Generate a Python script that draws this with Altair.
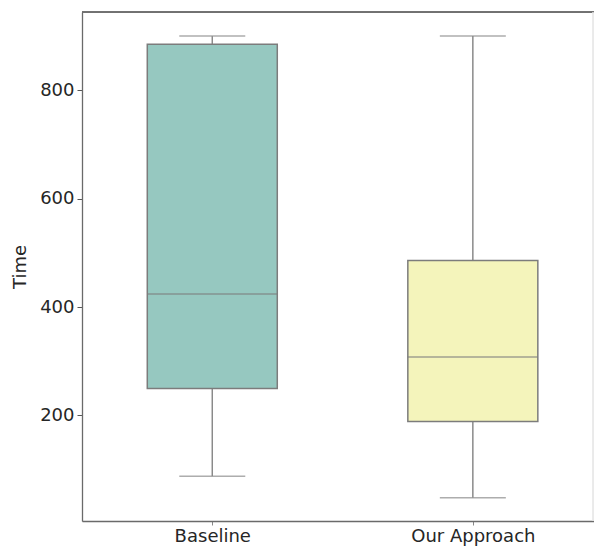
import altair as alt
import pandas as pd

categories = ["Baseline", "Our Approach"]
whisker_low = [88, 48]
q1 = [250, 189]
median = [424, 308]
q3 = [885, 486]
whisker_high = [900, 900]
colors = ["#96c8c0", "#f4f4bb"]

df = pd.DataFrame({
    "cat": categories,
    "pos": list(range(len(categories))),
    "lo": whisker_low,
    "q1": q1,
    "med": median,
    "q3": q3,
    "hi": whisker_high,
})

font = "DejaVu Sans"
line_gray = "#8a8a8a"
edge_gray = "#7c7c7c"
frame = "#6a6a6a"

label_expr = " : ".join(
    [f"datum.value == {i} ? '{c}'" for i, c in enumerate(categories)] + ["''"])

W, H = 512, 509

xscale = alt.Scale(domain=[-0.5, 1.465], nice=False, zero=False, padding=0)
xaxis = alt.Axis(title=None, values=list(range(len(categories))), labelExpr=label_expr,
                 labelAngle=0, labelFontSize=18, labelFont=font, labelColor="#262626",
                 tickSize=4, tickColor="#888", domain=True, domainColor=frame,
                 domainWidth=1.3, grid=False, labelPadding=2)
yscale = alt.Scale(domain=[5.3, 944.5], nice=False, zero=False, padding=0)
yaxis = alt.Axis(title="Time", titleFontSize=18, titleFont=font, titleFontWeight="normal",
                 titleColor="#262626", titlePadding=10,
                 values=[200, 400, 600, 800], labelFontSize=18, labelFont=font,
                 labelColor="#262626", tickSize=5, tickColor="#555", domain=True,
                 domainColor=frame, domainWidth=1.3, grid=False, labelPadding=3)

base = alt.Chart(df)
X = alt.X("pos:Q", scale=xscale, axis=xaxis)

whisk_low = base.mark_rule(color=line_gray, strokeWidth=1.5).encode(
    x=X, y=alt.Y("lo:Q", scale=yscale, axis=yaxis), y2="q1:Q")
whisk_high = base.mark_rule(color=line_gray, strokeWidth=1.5).encode(
    x=X, y=alt.Y("q3:Q", scale=yscale, axis=yaxis), y2="hi:Q")
box = base.mark_bar(size=130, stroke=edge_gray, strokeWidth=1.5).encode(
    x=X, y=alt.Y("q1:Q", scale=yscale, axis=yaxis), y2="q3:Q",
    color=alt.Color("cat:N", scale=alt.Scale(domain=categories, range=colors), legend=None))
med = base.mark_tick(size=130, thickness=1.5, color=edge_gray, orient="horizontal").encode(
    x=X, y=alt.Y("med:Q", scale=yscale, axis=yaxis))
cap_lo = base.mark_tick(size=66, thickness=1.5, color=line_gray, orient="horizontal").encode(
    x=X, y=alt.Y("lo:Q", scale=yscale, axis=yaxis))
cap_hi = base.mark_tick(size=66, thickness=1.5, color=line_gray, orient="horizontal").encode(
    x=X, y=alt.Y("hi:Q", scale=yscale, axis=yaxis))

top_line = alt.Chart(df).mark_rule(color=frame, strokeWidth=1.3).encode(
    x=alt.value(0), x2=alt.value(W), y=alt.value(0))
right_line = alt.Chart(df).mark_rule(color="#e4e4e4", strokeWidth=1).encode(
    x=alt.value(W - 1), y=alt.value(0), y2=alt.value(H))

chart = alt.layer(whisk_low, whisk_high, box, med, cap_lo, cap_hi, top_line, right_line).properties(
    width=W, height=H,
    autosize=alt.AutoSizeParams(type="none"),
    padding={"left": 74, "top": 4, "right": 0, "bottom": 25},
).configure_view(stroke=None).configure(background="white")

chart.save("out.html", embed_options={"renderer": "svg", "actions": False})
